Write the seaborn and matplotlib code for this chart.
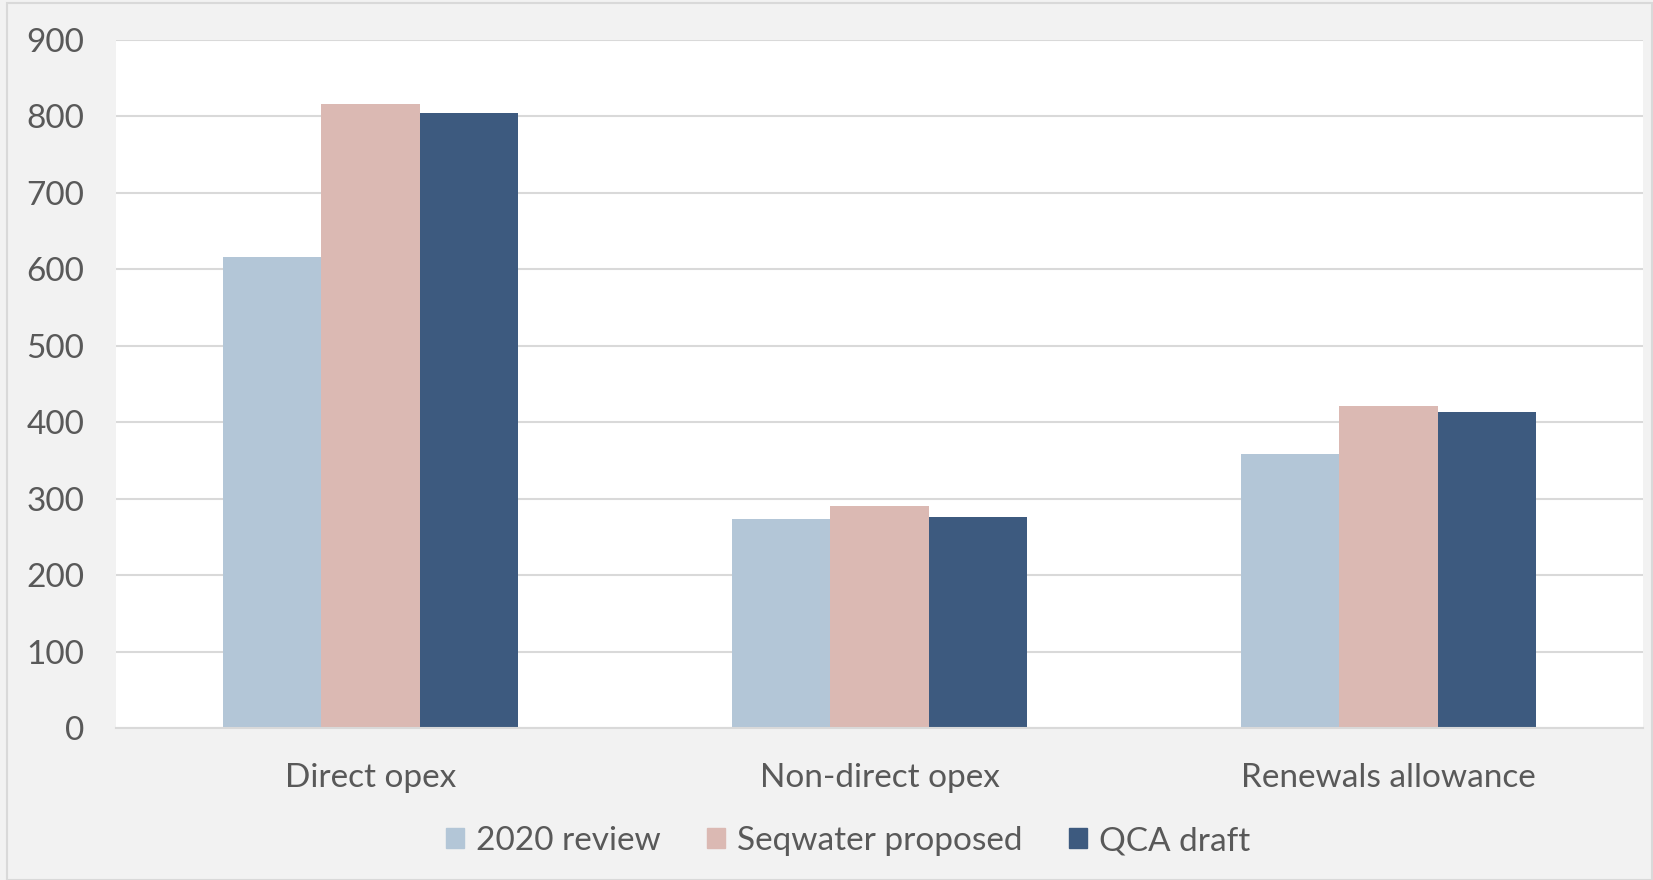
import pandas as pd
import seaborn as sns
import matplotlib.pyplot as plt
from matplotlib.patches import Rectangle

# values
categories = ['Direct opex', 'Non-direct opex', 'Renewals allowance']
series = ['2020 review', 'Seqwater proposed', 'QCA draft']
review_2020 = [616, 274, 358]
seqwater_proposed = [816, 291, 421]
qca_draft = [804, 276, 414]
yticks = [0, 100, 200, 300, 400, 500, 600, 700, 800, 900]

colors = ['#b3c6d7', '#dbb9b3', '#3d5a7f']
text_col = '#595959'
grid_col = '#d9d9d9'

df = pd.DataFrame({
    'Category': categories * 3,
    'Series': [series[0]] * 3 + [series[1]] * 3 + [series[2]] * 3,
    'Value': review_2020 + seqwater_proposed + qca_draft,
})

sns.set_style('white')
plt.rcParams['font.family'] = ['Lato', 'DejaVu Sans']

fig = plt.figure(figsize=(16.53, 8.8), dpi=100, facecolor='#f2f2f2')
ax = fig.add_axes([116 / 1653, 152 / 880, (1643 - 116) / 1653, (728 - 40) / 880])

sns.barplot(data=df, x='Category', y='Value', hue='Series', order=categories,
            hue_order=series, palette=colors, saturation=1, width=0.58,
            linewidth=0, ax=ax, legend=False)

ax.set_xlim(-0.5, 2.5)
ax.set_ylim(0, 900)
ax.set_yticks(yticks)
ax.set_xlabel('')
ax.set_ylabel('')
ax.yaxis.grid(True, color=grid_col, linewidth=1.5)
ax.set_axisbelow(True)
for s in ['top', 'right', 'left']:
    ax.spines[s].set_visible(False)
ax.spines['bottom'].set_color(grid_col)
ax.spines['bottom'].set_linewidth(1.5)
ax.tick_params(axis='y', length=0, pad=23, labelsize=24, labelcolor=text_col)
ax.tick_params(axis='x', length=0, pad=25, labelsize=24, labelcolor=text_col)

handles = [Rectangle((0, 0), 1, 1, color=c) for c in colors]
fig.legend(handles, series, loc='center', bbox_to_anchor=(848 / 1653, 1 - 841 / 880),
           ncol=3, frameon=False, fontsize=24, labelcolor=text_col,
           handlelength=0.55, handleheight=0.55, handletextpad=0.35, columnspacing=1.4)

# outer frame of the chart
fig.patches.append(Rectangle((7 / 1653, 0), 1 - 8 / 1653, 1 - 3 / 880,
                             transform=fig.transFigure, fill=False,
                             edgecolor='#d9d9d9', linewidth=1.5))

fig.savefig('out.png', dpi=100, facecolor=fig.get_facecolor())
